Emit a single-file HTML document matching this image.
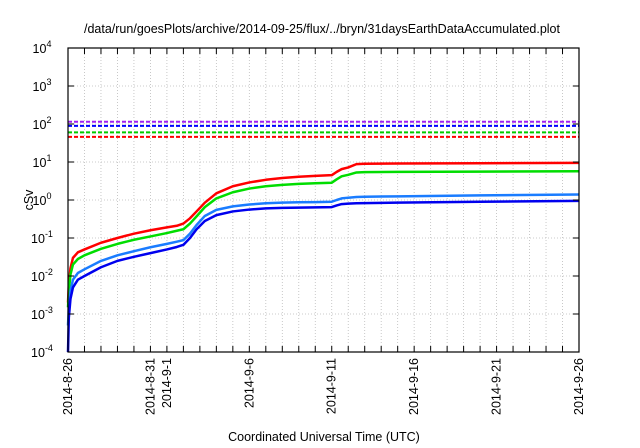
<!DOCTYPE html>
<html><head><meta charset="utf-8"><style>
body{margin:0;background:#fff}
svg{display:block;font-family:"Liberation Sans",sans-serif}
</style></head><body>
<svg id="c" width="640" height="448" viewBox="0 0 640 448">
<text x="322" y="33" font-size="12.5" text-anchor="middle">/data/run/goesPlots/archive/2014-09-25/flux/../bryn/31daysEarthDataAccumulated.plot</text>
<text x="33" y="200" font-size="12.5" text-anchor="middle" transform="rotate(-90 33 200)">cSv</text>
<text x="324" y="441" font-size="12.5" text-anchor="middle">Coordinated Universal Time (UTC)</text>
<g id="grid"></g><g id="thr"></g><g id="series"></g><g id="axes"></g>
</svg>
<script>
const yTickExps=[-4,-3,-2,-1,0,1,2,3,4];
const xTickDays=[0,5,6,11,16,21,26,31];
const xTickLabels=["2014-8-26","2014-8-31","2014-9-1","2014-9-6","2014-9-11","2014-9-16","2014-9-21","2014-9-26"];
const thresholds=[115,89,60,46];
const thresholdColors=["#a020f0","#0000ff","#00cc00","#ff0000"];
const days=[0,0.05,0.15,0.3,0.6,1,2,3,4,5,6,6.6,7,7.4,7.8,8.3,9,10,11,12,13,14,15,16,16.3,16.6,17,17.5,18,20,25,31];
const red=[0.002,0.006,0.016,0.03,0.042,0.05,0.075,0.1,0.13,0.16,0.19,0.21,0.24,0.33,0.5,0.85,1.5,2.3,2.9,3.4,3.8,4.1,4.3,4.5,5.5,6.5,7.2,8.8,9.0,9.1,9.3,9.5];
const green=[0.0015,0.004,0.011,0.02,0.028,0.035,0.052,0.07,0.09,0.11,0.135,0.155,0.17,0.24,0.37,0.65,1.1,1.6,2.0,2.3,2.5,2.65,2.75,2.85,3.5,4.2,4.6,5.3,5.4,5.5,5.6,5.7];
const lblue=[0.0005,0.0015,0.004,0.008,0.012,0.015,0.025,0.035,0.045,0.057,0.07,0.08,0.088,0.13,0.22,0.38,0.55,0.68,0.76,0.82,0.85,0.87,0.88,0.9,1.0,1.1,1.15,1.2,1.22,1.25,1.32,1.4];
const dblue=[0.0001,0.0008,0.0025,0.005,0.008,0.01,0.017,0.025,0.032,0.04,0.05,0.058,0.066,0.1,0.17,0.28,0.4,0.5,0.56,0.6,0.62,0.63,0.64,0.65,0.72,0.78,0.8,0.82,0.83,0.85,0.9,0.95];
const seriesData=[[red,"#ff0000"],[green,"#00dd00"],[lblue,"#1a7cff"],[dblue,"#0000ee"]];
const X0=68,X1=579,Y0=352,Y1=48;
const xs=d=>X0+(X1-X0)*d/31;
const ys=v=>Y0-(Y0-Y1)*(Math.log10(v)+4)/8;
const NS="http://www.w3.org/2000/svg";
function mk(t,a,p){const e=document.createElementNS(NS,t);for(const k in a)e.setAttribute(k,a[k]);p.appendChild(e);return e;}
const G=document.getElementById('grid'),T=document.getElementById('thr'),S=document.getElementById('series'),A=document.getElementById('axes');
for(let d=1;d<31;d++){const g=mk('line',{x1:xs(d),x2:xs(d),y1:Y1,y2:Y0,stroke:'#bbb','stroke-width':0.8,'stroke-dasharray':'1,2'},G);

const t1=mk('line',{x1:xs(d),x2:xs(d),y1:Y0,y2:Y0-6,stroke:'#000'},A);
const t2=mk('line',{x1:xs(d),x2:xs(d),y1:Y1,y2:Y1+6,stroke:'#000'},A);}
yTickExps.forEach(e=>{const y=ys(Math.pow(10,e));
if(e>-4&&e<4){const g=mk('line',{x1:X0,x2:X1,y1:y,y2:y,stroke:'#bbb','stroke-width':0.8,'stroke-dasharray':'1,2'},G);}
const t=mk('line',{x1:X0,x2:X0+6,y1:y,y2:y,stroke:'#000'},A);
const t3=mk('line',{x1:X1,x2:X1-6,y1:y,y2:y,stroke:'#000'},A);
const tx=mk('text',{x:X0-26,y:y+5,'font-size':12.5,'text-anchor':'middle'},A);
tx.textContent='10';const sp=mk('tspan',{dy:-6,'font-size':9},tx);sp.textContent=String(e);});
xTickDays.forEach((d,i)=>{const x=xs(d);
const tx=mk('text',{x:0,y:0,'font-size':12.5,'text-anchor':'end',transform:`translate(${x+4},${Y0+6}) rotate(-90)`},A);
tx.textContent=xTickLabels[i];});
thresholds.forEach((v,i)=>{const l=mk('line',{x1:X0,x2:X1,y1:ys(v),y2:ys(v),stroke:thresholdColors[i],'stroke-width':2,'stroke-dasharray':'4,2'},T);
});
seriesData.forEach(([vals,c])=>{const p=mk('polyline',{points:days.map((d,i)=>xs(d)+','+ys(vals[i])).join(' '),fill:'none',stroke:c,'stroke-width':2.5,'stroke-linejoin':'round'},S);
});
const fr=mk('rect',{x:X0,y:Y1,width:X1-X0,height:Y0-Y1,fill:'none',stroke:'#000','stroke-width':1.2},A);

</script>
</body></html>
